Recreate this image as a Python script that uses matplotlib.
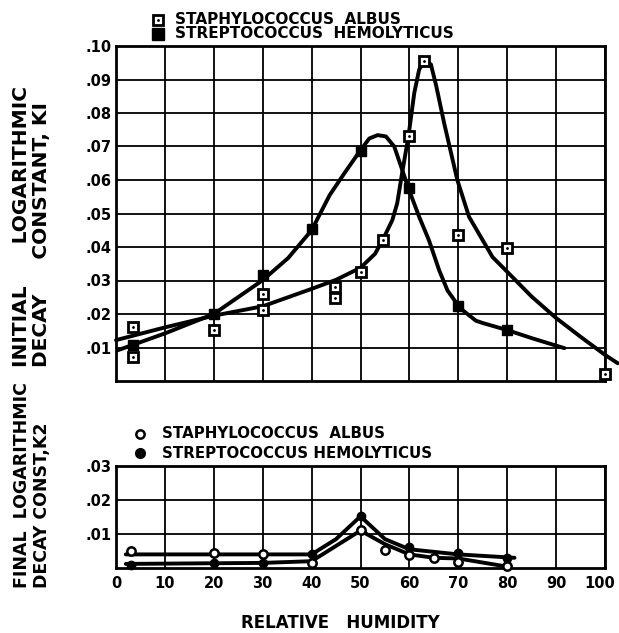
import matplotlib
matplotlib.use("Agg")
import matplotlib.pyplot as plt
from matplotlib.lines import Line2D
from matplotlib.transforms import ScaledTranslation

plt.rcParams['font.family'] = ['DejaVu Sans']
plt.rcParams['font.weight'] = 'bold'

# ---- data ----
humidity_ticks = [0, 10, 20, 30, 40, 50, 60, 70, 80, 90, 100]
k1_ticks = [0.01, 0.02, 0.03, 0.04, 0.05, 0.06, 0.07, 0.08, 0.09, 0.10]
k1_labels = ['.01', '.02', '.03', '.04', '.05', '.06', '.07', '.08', '.09', '.10']
k2_ticks = [0.01, 0.02, 0.03]
k2_labels = ['.01', '.02', '.03']

# K1 measured points
staph_k1_x = [3.4, 3.4, 20, 30, 30, 44.7, 44.7, 50, 54.5, 60, 63, 70, 80, 100]
staph_k1_y = [0.0162, 0.0073, 0.0152, 0.026, 0.0212, 0.0282, 0.0247, 0.0325,
              0.042, 0.073, 0.0956, 0.0435, 0.0398, 0.0022]
strep_k1_x = [3.4, 20, 30, 40, 50, 60, 70, 80]
strep_k1_y = [0.0107, 0.020, 0.0316, 0.0455, 0.0688, 0.0575, 0.0225, 0.0152]

# K1 hand-drawn curves (traced)
staph_k1_curve_x = [0, 10, 20, 30, 40, 45, 50, 53, 55, 56.5, 57.5, 58.5, 59.8, 61, 62,
                    63.1, 64.4, 65.5, 67.1, 69.8, 72.2, 74.6, 77, 80, 85, 90, 95, 100, 102.6]
staph_k1_curve_y = [0.0122, 0.016, 0.0195, 0.0223, 0.0275, 0.0302, 0.0338, 0.038, 0.0435,
                    0.048, 0.053, 0.062, 0.073, 0.086, 0.093, 0.0956, 0.0945, 0.088, 0.077,
                    0.060, 0.049, 0.043, 0.037, 0.0326, 0.0252, 0.0188, 0.0132, 0.0078, 0.0053]
strep_k1_curve_x = [0, 10, 20, 30, 35.2, 40, 43.7, 46.7, 49.8, 51.8, 53.5, 55.2, 56.9, 58.3,
                    59.8, 62, 64, 66.1, 67.8, 70, 71, 73.6, 75, 80, 85, 91.7]
strep_k1_curve_y = [0.0090, 0.0142, 0.0200, 0.0301, 0.0367, 0.0450, 0.0555, 0.062, 0.0685,
                    0.0724, 0.0734, 0.073, 0.070, 0.064, 0.0575, 0.049, 0.042, 0.033, 0.027,
                    0.0225, 0.021, 0.018, 0.0173, 0.0152, 0.0128, 0.0098]

# K2 measured points
staph_k2_x = [3, 20, 30, 40, 50, 55, 60, 65, 70, 80]
staph_k2_y = [0.0050, 0.0045, 0.0040, 0.0015, 0.0112, 0.0053, 0.0038, 0.0028, 0.0019, 0.0006]
strep_k2_x = [3, 20, 30, 40, 50, 60, 70, 80]
strep_k2_y = [0.0008, 0.0014, 0.0015, 0.0040, 0.0152, 0.0063, 0.0043, 0.0028]

# K2 curves
k2_curve1_x = [2, 20, 30, 40, 45, 50, 55, 60, 70, 81.5]
k2_curve1_y = [0.0040, 0.0040, 0.0040, 0.0040, 0.0085, 0.0152, 0.0085, 0.0055, 0.0040, 0.0030]
k2_curve2_x = [2, 20, 30, 40, 45, 50, 55, 60, 65, 70, 80]
k2_curve2_y = [0.0012, 0.0014, 0.0015, 0.0020, 0.0065, 0.0110, 0.0070, 0.0040, 0.0030, 0.0028, 0.0004]

W, H = 619, 633
fig = plt.figure(figsize=(W / 100, H / 100), dpi=100)


def fx(px):
    return px / W


def fy(py):
    return 1 - py / H


ax1 = fig.add_axes([fx(116), fy(381), fx(605) - fx(116), fy(46) - fy(381)])
ax2 = fig.add_axes([fx(116), fy(568), fx(605) - fx(116), fy(466) - fy(568)])

for ax in (ax1, ax2):
    ax.set_xlim(0, 100)
    ax.set_xticks(humidity_ticks)
    ax.grid(True, color='black', linewidth=1.3)
    ax.set_axisbelow(True)
    for s in ax.spines.values():
        s.set_linewidth(2)
    ax.tick_params(length=0, labelsize=10.5, pad=3)

ax1.set_ylim(0, 0.10)
ax1.set_yticks(k1_ticks)
ax1.set_yticklabels(k1_labels)
ax1.set_xticklabels([])

ax2.set_ylim(0, 0.03)
ax2.set_yticks(k2_ticks)
ax2.set_yticklabels(k2_labels)
ax2.set_xticklabels([str(t) for t in humidity_ticks], fontsize=10.5)
ax2.tick_params(axis='x', pad=6)
last = ax2.get_xticklabels()[-1]
last.set_transform(last.get_transform() + ScaledTranslation(-4 / 72, 0, fig.dpi_scale_trans))

# top panel curves + points
lw = 2.8
ax1.plot(staph_k1_curve_x, staph_k1_curve_y, color='black', lw=lw,
         solid_joinstyle='round', solid_capstyle='round', clip_on=False, zorder=3)
ax1.plot(strep_k1_curve_x, strep_k1_curve_y, color='black', lw=lw,
         solid_joinstyle='round', solid_capstyle='round', zorder=3)
ax1.plot(staph_k1_x, staph_k1_y, ls='none', marker='s', ms=7, mfc='white',
         mec='black', mew=2, clip_on=False, zorder=4)
ax1.plot(staph_k1_x, staph_k1_y, ls='none', marker='.', ms=2, color='black',
         clip_on=False, zorder=5)
ax1.plot(strep_k1_x, strep_k1_y, ls='none', marker='s', ms=7, color='black',
         clip_on=False, zorder=4)

# bottom panel
ax2.plot(k2_curve1_x, k2_curve1_y, color='black', lw=lw, solid_joinstyle='round',
         solid_capstyle='round', clip_on=False, zorder=3)
ax2.plot(k2_curve2_x, k2_curve2_y, color='black', lw=lw, solid_joinstyle='round',
         solid_capstyle='round', clip_on=False, zorder=3)
ax2.plot(staph_k2_x, staph_k2_y, ls='none', marker='o', ms=6, mfc='white',
         mec='black', mew=1.8, clip_on=False, zorder=4)
ax2.plot(strep_k2_x, strep_k2_y, ls='none', marker='o', ms=6, color='black',
         clip_on=False, zorder=4)

# legends (drawn as figure artists)
fig.add_artist(Line2D([fx(158)], [fy(20)], marker='s', ms=7, mfc='white', mec='black', mew=2))
fig.add_artist(Line2D([fx(158)], [fy(20)], marker='.', ms=2, color='black'))
fig.add_artist(Line2D([fx(158)], [fy(34)], marker='s', ms=8, color='black'))
fig.text(fx(175), fy(20), 'STAPHYLOCOCCUS  ALBUS', fontsize=11, va='center')
fig.text(fx(175), fy(34), 'STREPTOCOCCUS  HEMOLYTICUS', fontsize=11, va='center')

fig.add_artist(Line2D([fx(140)], [fy(434)], marker='o', ms=6, mfc='white', mec='black', mew=1.8))
fig.add_artist(Line2D([fx(140)], [fy(453)], marker='o', ms=7, color='black'))
fig.text(fx(162), fy(434), 'STAPHYLOCOCCUS  ALBUS', fontsize=10.8, va='center')
fig.text(fx(162), fy(453), 'STREPTOCOCCUS HEMOLYTICUS', fontsize=10.8, va='center')

# axis titles
fig.text(fx(22), fy(367), 'INITIAL      LOGARITHMIC', rotation=90, fontsize=14.5,
         ha='center', va='bottom')
fig.text(fx(42), fy(367), 'DECAY     CONSTANT, KI', rotation=90, fontsize=14.5,
         ha='center', va='bottom')
fig.text(fx(22), fy(588), 'FINAL  LOGARITHMIC', rotation=90, fontsize=12.5,
         ha='center', va='bottom')
fig.text(fx(42), fy(588), 'DECAY CONST,K2', rotation=90, fontsize=12.5,
         ha='center', va='bottom')
fig.text(fx(340), fy(623), 'RELATIVE   HUMIDITY', fontsize=12, ha='center', va='center')

fig.savefig('out.png', dpi=100)
